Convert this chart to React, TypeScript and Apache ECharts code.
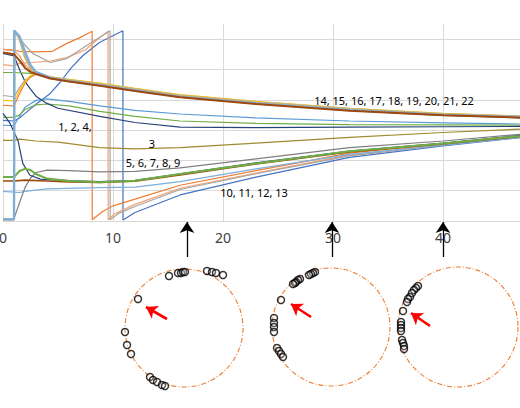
import React, { useEffect, useRef } from "react";
import * as echarts from "echarts";

// ---------- Top chart data: [x, y] pairs ----------
// Group "14 ... 22"
const s14 = [[0,5.56],[1,5.5],[1.5,5.3],[2,5.05],[2.5,4.92],[3,4.85],[4.3,4.7],[6,4.6],[8.8,4.46],[12,4.29],[16.1,4.08],[23,3.86],[31.5,3.64],[40,3.49],[47,3.41]];
const s15 = [[0,0.05],[1,0.05],[1.02,6.28],[1.5,6.1],[2,5.6],[2.5,5.15],[3,4.92],[4.3,4.72],[6,4.62],[8.8,4.48],[12,4.31],[16.1,4.1],[23,3.88],[31.5,3.66],[40,3.5],[47,3.43]];
const s16 = [[0,3.98],[1,3.96],[1.5,4.3],[2,4.6],[2.5,4.8],[3,4.9],[4.3,4.76],[6,4.67],[8.8,4.55],[12,4.38],[16.1,4.17],[23,3.95],[31.5,3.72],[40,3.55],[47,3.46]];
const s17 = [[0,3.82],[1,3.8],[1.5,4.2],[2,4.55],[2.5,4.75],[3,4.86],[4.3,4.72],[6,4.63],[8.8,4.5],[12,4.33],[16.1,4.12],[23,3.9],[31.5,3.68],[40,3.52],[47,3.44]];
const s18 = [[0,4.9],[1,4.9],[2,4.88],[3,4.86],[4.3,4.73],[6,4.64],[8.8,4.5],[12,4.33],[16.1,4.12],[23,3.9],[31.5,3.67],[40,3.51],[47,3.43]];
const s19 = [[0,4.14],[1,4.1],[1.5,4.4],[2,4.65],[3,4.84],[4.3,4.7],[6,4.6],[8.8,4.47],[12,4.3],[16.1,4.09],[23,3.87],[31.5,3.65],[40,3.49],[47,3.41]];
const s20 = [[0,0.05],[1,0.05],[1.04,6.28],[1.5,6.0],[2,5.4],[2.5,5.05],[3,4.9],[4.3,4.74],[6,4.65],[8.8,4.52],[12,4.35],[16.1,4.14],[23,3.92],[31.5,3.7],[40,3.53],[47,3.45]];
const s21 = [[0,5.66],[1,5.62],[1.5,5.45],[2,5.15],[2.5,4.98],[3,4.9],[4.3,4.73],[6,4.63],[8.8,4.49],[12,4.32],[16.1,4.11],[23,3.89],[31.5,3.66],[40,3.5],[47,3.42]];
const s22 = [[0,0.05],[1,0.05],[1.03,6.28],[1.5,6.05],[2,5.5],[2.5,5.1],[3,4.9],[4.3,4.73],[6,4.63],[8.8,4.49],[12,4.31],[16.1,4.1],[23,3.88],[31.5,3.66],[40,3.5],[47,3.42]];
// Group "1, 2, 4"
const s1 = [[0,3.16],[1,3.15],[1.5,3.45],[2,3.75],[3,3.98],[4,4.03],[6,3.95],[8.8,3.8],[12,3.65],[16.1,3.53],[23,3.4],[31.5,3.3],[40,3.24],[47,3.2]];
const s2 = [[0,3.42],[1,3.42],[1.5,3.5],[2,3.68],[3,3.83],[4,3.86],[6,3.8],[8.8,3.62],[12,3.45],[16.1,3.3],[23,3.22],[31.5,3.18],[40,3.17],[47,3.16]];
const s4 = [[0,5.53],[1,5.45],[1.5,5.0],[2,4.6],[2.5,4.35],[3,4.12],[4,3.88],[5,3.72],[8.8,3.45],[12,3.25],[16.1,3.1],[23,3.08],[31.5,3.1],[40,3.11],[47,3.12]];
// Group "3"
const s3 = [[0,2.66],[1,2.66],[1.5,2.7],[3,2.64],[5,2.6],[8.8,2.42],[12,2.38],[16.1,2.42],[23,2.57],[31.5,2.76],[40,2.92],[47,3.03]];
// Group "5 ... 9"
const s5 = [[0,1.45],[1,1.45],[1.5,1.65],[2,1.72],[2.5,1.68],[3,1.55],[4,1.4],[6,1.32],[8.8,1.28],[12,1.33],[16.1,1.55],[23,1.9],[31.5,2.3],[40,2.56],[47,2.8]];
const s6 = [[0,1.32],[1,1.32],[2,1.35],[4,1.32],[6,1.29],[8.8,1.27],[12,1.31],[16.1,1.52],[23,1.88],[31.5,2.28],[40,2.54],[47,2.79]];
const s7 = [[0,0.08],[1,0.08],[1.5,0.6],[2,1.1],[2.5,1.42],[3,1.6],[4,1.68],[6,1.66],[8.8,1.62],[12,1.64],[16.1,1.75],[23,2.05],[31.5,2.42],[40,2.64],[47,2.86]];
const s8 = [[0,0.98],[1,0.95],[1.5,0.94],[2,0.98],[4,1.06],[8.8,1.1],[12,1.12],[16.1,1.3],[23,1.72],[31.5,2.2],[40,2.5],[47,2.76]];
const s9 = [[0,3.55],[0.64,3.22],[1.36,2.66],[1.8,1.9],[2.45,1.51],[3.4,1.38],[6,1.33],[8.8,1.3],[12,1.34],[16.1,1.56],[23,1.92],[31.5,2.31],[40,2.57],[47,2.82]];
// Group "10 ... 13"
const s10 = [[0,5.66],[1,5.64],[1.5,5.6],[3,5.58],[4.5,5.6],[5.8,5.86],[7,6.05],[8.1,6.26],[8.11,0.04],[9,0.3],[10,0.5],[12,0.72],[16.1,1.18],[23,1.66],[31.5,2.24],[40,2.56],[47,2.8]];
const s11 = [[0,5.16],[1,5.12],[1.5,5.2],[2.7,5.23],[4.3,5.28],[5.8,5.39],[7.5,5.65],[8.8,6.05],[9.55,6.25],[9.56,0.04],[10.2,0.25],[12,0.55],[16.1,1.08],[23,1.58],[31.5,2.18],[40,2.52],[47,2.78]];
const s12 = [[0,0.06],[1,0.06],[1.01,6.28],[1.5,6.05],[2,5.8],[2.7,5.53],[4.3,5.23],[5.8,5.36],[7.9,5.86],[9.73,6.28],[9.74,0.04],[10.5,0.25],[12,0.48],[16.1,1.04],[23,1.56],[31.5,2.15],[40,2.5],[47,2.77]];
const s13 = [[0,3.32],[1,3.3],[1.5,3.4],[2,3.55],[3,3.85],[4.27,4.2],[5.18,4.57],[6.2,5.05],[7.27,5.46],[8.8,5.9],[10.9,6.28],[10.91,0.03],[12,0.28],[16.1,0.86],[23,1.45],[31.5,2.1],[40,2.48],[47,2.75]];

const xTicks = [0, 10, 20, 30, 40];

const groupLabels = ["1, 2, 4,", "3", "5, 6, 7, 8, 9", "10, 11, 12, 13", "14, 15, 16, 17, 18, 19, 20, 21, 22"];

// ---------- Lower panel data (page pixel space) ----------
const ring1Markers = [[169,276],[178,273],[181,273],[183,272],[185,272],[207,271],[212,272],[216,273],[223,275],[138,299],[125,332],[127,345],[131,354],[150,377],[153,380],[157,382],[162,385],[165,386]];
const ring2Markers = [[315,272],[313,273],[311,274],[309,275],[300,279],[298,280],[296,282],[295,283],[293,284],[281,300],[274,318],[274,323],[274,327],[274,332],[277,348],[279,351],[281,354],[283,357]];
const ring3Markers = [[418,286],[416,288],[414,290],[412,293],[410,297],[408,299],[407,302],[403,311],[401,322],[401,325],[401,328],[401,331],[402,340],[403,343],[404,346],[404,349]];
const blackArrows = [[[187,257],[187,222]],[[332,257],[332,222]],[[443,257],[443,222]]];
const redArrows = [[[167,319],[146,307]],[[311,317],[291,304]],[[430,326],[411,313]]];
const rings = [[184,328,59],[331,327,59],[458,327,60]];

const lineDefs: [number[][], string, number][] = [
  [s13, "#4472C4", 1.2],
  [s10, "#ED7D31", 1.2],
  [s11, "#F4A070", 1.2],
  [s12, "#A5A5A5", 1.2],
  [s1, "#5B9BD5", 1.2],
  [s2, "#70AD47", 1.2],
  [s4, "#264478", 1.2],
  [s3, "#A08A30", 1.2],
  [s8, "#7CAFDD", 1.2],
  [s7, "#7F7F7F", 1.2],
  [s9, "#264478", 1.2],
  [s6, "#9E480E", 1.6],
  [s5, "#70AD47", 2.0],
  [s18, "#70AD47", 1.2],
  [s19, "#A5A5A5", 1.2],
  [s17, "#ED7D31", 1.2],
  [s16, "#FFC000", 1.2],
  [s21, "#F1975A", 1.2],
  [s22, "#B7B7B7", 2.0],
  [s20, "#C9B57A", 2.2],
  [s15, "#7CAFDD", 2.2],
  [s14, "#9E480E", 2.0],
];

const labelPos = [[75,126],[152,143],[153,162],[254,192],[394,100]];

export default function App() {
  const ref = useRef<HTMLDivElement>(null);
  useEffect(() => {
    const chart = echarts.init(ref.current!, null, { renderer: "svg" });
    const lineSeries = lineDefs.map(([d, c, w]) => ({
      type: "line",
      xAxisIndex: 0,
      yAxisIndex: 0,
      data: d,
      showSymbol: false,
      symbol: "none",
      silent: true,
      lineStyle: { color: c, width: w },
      z: 3,
    }));
    const markerSeries = [ring1Markers, ring2Markers, ring3Markers].map((m) => ({
      type: "scatter",
      xAxisIndex: 1,
      yAxisIndex: 1,
      data: m,
      symbol: "circle",
      symbolSize: 7,
      silent: true,
      itemStyle: { color: "rgba(255,255,255,0.25)", borderColor: "#000", borderWidth: 1.5 },
      z: 5,
    }));
    const arrowSeries = [
      {
        type: "lines",
        coordinateSystem: "cartesian2d",
        xAxisIndex: 1,
        yAxisIndex: 1,
        data: blackArrows.map((c) => ({ coords: c })),
        symbol: ["none", "arrow"],
        symbolSize: [8, 11],
        silent: true,
        lineStyle: { color: "#000", width: 1.3, opacity: 1 },
        z: 6,
      },
      {
        type: "lines",
        coordinateSystem: "cartesian2d",
        xAxisIndex: 1,
        yAxisIndex: 1,
        data: redArrows.map((c) => ({ coords: c })),
        symbol: ["none", "arrow"],
        symbolSize: [10, 11],
        silent: true,
        lineStyle: { color: "#FF0000", width: 2.6, opacity: 1 },
        z: 6,
      },
    ];
    const option = {
      animation: false,
      grid: [
        { left: 3, right: 0, top: 24, bottom: 187, outerBoundsMode: "none", containLabel: false },
        { left: 0, top: 0, width: 520, height: 408, outerBoundsMode: "none" },
      ],
      xAxis: [
        {
          type: "value",
          gridIndex: 0,
          min: 0,
          max: 47,
          interval: 10,
          axisLine: { show: true, lineStyle: { color: "#D9D9D9", width: 1 } },
          axisTick: { show: false },
          axisLabel: {
            fontSize: 14,
            color: "#404040",
            margin: 9,
            fontFamily: "Noto Sans",
            showMaxLabel: false,
            formatter: (v: number) => (xTicks.includes(v) ? String(v) : ""),
          },
          splitLine: { show: true, showMaxLine: false, lineStyle: { color: "#D9D9D9", width: 1 } },
        },
        { type: "value", gridIndex: 1, min: 0, max: 520, show: false },
      ],
      yAxis: [
        {
          type: "value",
          gridIndex: 0,
          min: 0,
          max: 6.5,
          interval: 1,
          axisLine: { show: false },
          axisTick: { show: false },
          axisLabel: { show: false },
          splitLine: { show: true, showMaxLine: false, lineStyle: { color: "#D9D9D9", width: 1 } },
        },
        { type: "value", gridIndex: 1, min: 0, max: 408, inverse: true, show: false },
      ],
      series: [...lineSeries, ...markerSeries, ...arrowSeries],
      graphic: [
        ...rings.map(([cx, cy, r]) => ({
          type: "circle",
          shape: { cx, cy, r },
          silent: true,
          z: 1,
          style: { fill: "none", stroke: "#ED7D31", lineWidth: 1.1, lineDash: [5, 2, 1, 2] },
        })),
        ...groupLabels.map((t, i) => ({
          type: "text",
          x: labelPos[i][0],
          y: labelPos[i][1],
          silent: true,
          z: 10,
          style: {
            text: t,
            fill: "#000",
            font: "11px 'Noto Sans'",
            textAlign: "center",
            textVerticalAlign: "middle",
          },
        })),
      ],
    };
    chart.setOption(option as any);
    return () => chart.dispose();
  }, []);
  return (
    <div
      ref={ref}
      style={{ position: "fixed", left: 0, top: 0, width: 520, height: 408, background: "#fff" }}
    />
  );
}
